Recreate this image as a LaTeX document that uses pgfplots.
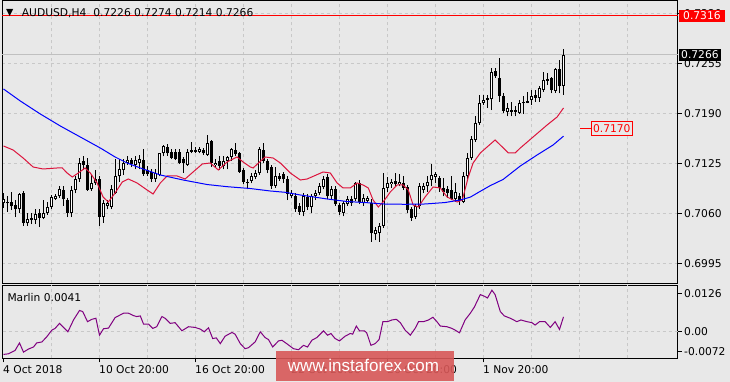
\documentclass[border=0pt]{standalone}
\usepackage{pgfplots}
\pgfplotsset{compat=1.18}
\usepackage{pgfplotstable}
\usepackage{fontspec}
\setmainfont{DejaVu Sans}
\newfontfamily\wmfont{Liberation Sans}
\definecolor{bg}{RGB}{232,232,232}
\definecolor{gridc}{RGB}{200,200,200}
\definecolor{bidc}{RGB}{192,192,192}
\definecolor{mared}{RGB}{220,20,60}
\definecolor{mablue}{RGB}{0,0,255}
\definecolor{marlin}{RGB}{128,0,128}
\definecolor{wmred}{RGB}{216,88,88}
\newcommand\tf{\fontsize{10.7}{12}\selectfont}

\pgfplotstableread{
i o h l c
0 0.7073 0.7087 0.7067 0.7078
1 0.7075 0.7083 0.7062 0.7073
2 0.7075 0.7088 0.7064 0.7069
3 0.7071 0.7077 0.7055 0.7065
4 0.7065 0.7087 0.7060 0.7085
5 0.7086 0.7089 0.7044 0.7048
6 0.7047 0.7061 0.7044 0.7053
7 0.7054 0.7060 0.7046 0.7051
8 0.7051 0.7065 0.7046 0.7059
9 0.7060 0.7065 0.7042 0.7054
10 0.7054 0.7077 0.7052 0.7061
11 0.7061 0.7075 0.7058 0.7068
12 0.7068 0.7084 0.7065 0.7081
13 0.7079 0.7085 0.7077 0.7083
14 0.7082 0.7095 0.7080 0.7091
15 0.7090 0.7095 0.7070 0.7078
16 0.7077 0.7080 0.7055 0.7061
17 0.7061 0.7095 0.7055 0.7090
18 0.7090 0.7109 0.7086 0.7104
19 0.7104 0.7132 0.7101 0.7125
20 0.7128 0.7134 0.7116 0.7123
21 0.7123 0.7132 0.7089 0.7090
22 0.7091 0.7111 0.7089 0.7100
23 0.7099 0.7116 0.7097 0.7104
24 0.7104 0.7109 0.7044 0.7055
25 0.7055 0.7077 0.7048 0.7074
26 0.7069 0.7077 0.7065 0.7074
27 0.7068 0.7097 0.7065 0.7092
28 0.7087 0.7130 0.7085 0.7109
29 0.7108 0.7130 0.7101 0.7117
30 0.7116 0.7130 0.7110 0.7126
31 0.7126 0.7134 0.7123 0.7129
32 0.7129 0.7132 0.7120 0.7124
33 0.7123 0.7134 0.7117 0.7129
34 0.7125 0.7136 0.7117 0.7130
35 0.7129 0.7143 0.7109 0.7111
36 0.7116 0.7121 0.7108 0.7111
37 0.7114 0.7117 0.7101 0.7104
38 0.7104 0.7117 0.7101 0.7112
39 0.7110 0.7139 0.7108 0.7138
40 0.7138 0.7149 0.7134 0.7147
41 0.7146 0.7150 0.7135 0.7138
42 0.7140 0.7143 0.7130 0.7132
43 0.7140 0.7143 0.7129 0.7130
44 0.7140 0.7143 0.7124 0.7126
45 0.7130 0.7133 0.7113 0.7125
46 0.7123 0.7143 0.7122 0.7140
47 0.7140 0.7153 0.7138 0.7142
48 0.7142 0.7146 0.7138 0.7140
49 0.7140 0.7146 0.7138 0.7143
50 0.7142 0.7145 0.7136 0.7138
51 0.7136 0.7162 0.7135 0.7152
52 0.7154 0.7155 0.7120 0.7125
53 0.7123 0.7130 0.7120 0.7126
54 0.7128 0.7134 0.7116 0.7122
55 0.7122 0.7135 0.7117 0.7128
56 0.7128 0.7135 0.7117 0.7133
57 0.7133 0.7145 0.7128 0.7143
58 0.7142 0.7152 0.7134 0.7137
59 0.7138 0.7140 0.7113 0.7114
60 0.7116 0.7119 0.7098 0.7101
61 0.7099 0.7104 0.7091 0.7101
62 0.7102 0.7113 0.7099 0.7108
63 0.7107 0.7116 0.7104 0.7112
64 0.7112 0.7146 0.7110 0.7143
65 0.7142 0.7151 0.7126 0.7128
66 0.7128 0.7131 0.7112 0.7116
67 0.7120 0.7123 0.7092 0.7095
68 0.7096 0.7120 0.7093 0.7108
69 0.7109 0.7112 0.7102 0.7105
70 0.7111 0.7114 0.7100 0.7104
71 0.7104 0.7108 0.7077 0.7085
72 0.7082 0.7090 0.7080 0.7086
73 0.7083 0.7086 0.7062 0.7065
74 0.7070 0.7073 0.7058 0.7062
75 0.7062 0.7086 0.7056 0.7082
76 0.7081 0.7085 0.7064 0.7068
77 0.7068 0.7085 0.7060 0.7082
78 0.7082 0.7090 0.7077 0.7087
79 0.7087 0.7099 0.7084 0.7096
80 0.7094 0.7108 0.7091 0.7104
81 0.7107 0.7111 0.7079 0.7082
82 0.7082 0.7095 0.7079 0.7091
83 0.7091 0.7095 0.7070 0.7072
84 0.7071 0.7073 0.7058 0.7062
85 0.7061 0.7076 0.7056 0.7073
86 0.7072 0.7083 0.7070 0.7078
87 0.7078 0.7082 0.7070 0.7074
88 0.7078 0.7101 0.7076 0.7099
89 0.7099 0.7103 0.7072 0.7075
90 0.7073 0.7085 0.7070 0.7080
91 0.7076 0.7083 0.7073 0.7080
92 0.7074 0.7078 0.7023 0.7034
93 0.7033 0.7042 0.7025 0.7038
94 0.7035 0.7047 0.7023 0.7044
95 0.7044 0.7112 0.7041 0.7093
96 0.7093 0.7107 0.7088 0.7100
97 0.7098 0.7104 0.7093 0.7101
98 0.7102 0.7112 0.7094 0.7098
99 0.7098 0.7111 0.7095 0.7101
100 0.7100 0.7109 0.7090 0.7093
101 0.7094 0.7097 0.7060 0.7064
102 0.7066 0.7068 0.7050 0.7054
103 0.7055 0.7072 0.7052 0.7069
104 0.7069 0.7100 0.7066 0.7095
105 0.7090 0.7099 0.7086 0.7095
106 0.7095 0.7108 0.7088 0.7101
107 0.7103 0.7124 0.7095 0.7110
108 0.7107 0.7114 0.7099 0.7111
109 0.7106 0.7109 0.7088 0.7093
110 0.7093 0.7106 0.7082 0.7088
111 0.7091 0.7095 0.7080 0.7087
112 0.7090 0.7108 0.7077 0.7078
113 0.7078 0.7099 0.7075 0.7088
114 0.7082 0.7086 0.7071 0.7076
115 0.7075 0.7114 0.7073 0.7108
116 0.7108 0.7138 0.7103 0.7132
117 0.7132 0.7160 0.7129 0.7156
118 0.7155 0.7186 0.7153 0.7177
119 0.7177 0.7214 0.7175 0.7203
120 0.7203 0.7214 0.7201 0.7207
121 0.7210 0.7214 0.7197 0.7207
122 0.7208 0.7249 0.7194 0.7244
123 0.7245 0.7249 0.7236 0.7238
124 0.7236 0.7262 0.7205 0.7213
125 0.7213 0.7216 0.7190 0.7193
126 0.7192 0.7203 0.7186 0.7197
127 0.7192 0.7205 0.7186 0.7194
128 0.7194 0.7199 0.7186 0.7192
129 0.7191 0.7207 0.7189 0.7204
130 0.7203 0.7213 0.7189 0.7205
131 0.7204 0.7218 0.7203 0.7206
132 0.7207 0.7220 0.7201 0.7213
133 0.7214 0.7220 0.7205 0.7210
134 0.7210 0.7225 0.7205 0.7223
135 0.7220 0.7244 0.7218 0.7233
136 0.7232 0.7242 0.7227 0.7234
137 0.7236 0.7237 0.7216 0.7220
138 0.7219 0.7249 0.7217 0.7247
139 0.7247 0.7259 0.7216 0.7225
140 0.7226 0.7274 0.7214 0.7266
}\candles

\pgfplotstableread{
x y
0 0.71475
2.4 0.71423
4.9 0.71319
7.4 0.71202
9.9 0.71176
13.4 0.71189
14.7 0.71189
15.9 0.71124
17.2 0.71072
18.7 0.71124
20.4 0.71189
21.7 0.71124
23.4 0.70994
24.9 0.70812
26.2 0.70747
27.9 0.70864
29.7 0.71007
31.2 0.71046
33.4 0.70994
35.9 0.70903
37.4 0.70851
39.2 0.70994
40.9 0.71085
43.4 0.71085
45.4 0.71046
47.4 0.71137
49.7 0.71241
51.7 0.71254
53.7 0.71163
55.9 0.71267
58.4 0.71332
59.9 0.71267
61.7 0.71202
62.4 0.71189
65.4 0.71332
67.4 0.71319
69.2 0.71254
71.7 0.71124
74.2 0.71033
75.9 0.71046
79.9 0.71137
81.7 0.71124
83.4 0.70994
84.9 0.70929
86.7 0.70929
88.4 0.70994
89.9 0.70968
91.2 0.70929
92.4 0.70773
93.7 0.70682
94.9 0.70747
96.7 0.70877
98.4 0.70968
99.9 0.70968
101.2 0.70903
102.4 0.70708
103.7 0.70682
105.4 0.70812
107.4 0.70942
109.2 0.70929
110.9 0.70812
113.4 0.70747
114.7 0.70773
116.2 0.71072
117.4 0.71254
119.2 0.71384
120.9 0.71462
122.9 0.71553
124.7 0.71462
126.2 0.71384
127.9 0.71384
129.2 0.71449
132.4 0.71592
135.9 0.71748
138.4 0.71852
140 0.71969
}\mared

\pgfplotstableread{
x y
0 0.72216
4.2 0.72060
9.2 0.71891
14.2 0.71735
19.2 0.71592
24.2 0.71449
27.9 0.71332
30.9 0.71254
34.2 0.71189
39.2 0.71098
44.9 0.71033
50.9 0.70974
55.9 0.70946
61.7 0.70922
66.7 0.70890
70.4 0.70873
74.2 0.70838
80.9 0.70786
85.9 0.70753
90.9 0.70738
94.9 0.70721
100.4 0.70717
105.4 0.70721
110.4 0.70740
114.2 0.70773
116.7 0.70810
119.0 0.70880
121.7 0.70960
124.9 0.71040
129.2 0.71215
133.4 0.71358
137.4 0.71488
140 0.71603
}\mablue

\pgfplotstableread{
x y
0 -0.0061
1.25 -0.00592
2.9 -0.0050
4.0 -0.00298
5.0 -0.00546
6.25 -0.00463
7.5 -0.00408
8.3 -0.00298
9.6 -0.00271
10.8 -0.00133
12.1 0.0005
12.9 0.00096
14.0 0.00233
15.0 0.00123
16.1 0.00004
17.5 0.00325
19.0 0.00582
19.8 0.00554
21.0 0.00279
22.1 0.00343
23.1 0.00371
24.0 -0.00088
25.0 0.00087
26.25 0.00105
27.9 0.00389
30.0 0.00508
31.25 0.00508
32.5 0.00444
33.3 0.00417
34.2 0.00435
35.0 0.00215
36.25 0.00215
37.3 0.00096
38.3 0.00142
39.6 0.00417
40.4 0.00371
41.7 0.00233
42.9 0.00252
44.6 0.00032
46.25 0.00142
47.9 0.00123
49.2 0.00077
50.2 0.00004
51.25 0.00114
52.3 -0.00179
53.2 -0.00161
54.2 -0.00317
55.4 -0.00115
57.1 -0.00014
57.9 -0.0006
59.2 -0.00317
60.4 -0.00454
61.25 -0.00427
62.9 -0.00271
64.2 0.00004
65.4 -0.00152
66.25 -0.00207
67.3 -0.00408
68.75 -0.00243
69.6 -0.00225
70.8 -0.00317
72.5 -0.00454
73.75 -0.00482
75.0 -0.00363
76.0 -0.00408
77.1 -0.00225
78.35 -0.00152
80.0 0.00032
81.0 -0.00088
81.85 -0.00042
82.9 -0.00179
84.0 -0.00243
85.4 -0.00115
86.7 -0.00042
87.3 -0.0006
88.2 0.0016
89.0 0.00032
90.2 0.00032
90.8 -0.00023
91.85 -0.00363
92.9 -0.00317
93.9 -0.00207
94.85 0.00279
96.0 0.00279
97.1 0.00325
98.2 0.00343
99.2 0.00252
100.4 0.0005
101.7 -0.00088
102.9 0.00096
103.75 0.00279
105.0 0.00279
106.25 0.00325
107.35 0.00398
108.35 0.00279
109.2 0.0016
110.85 0.00142
112.1 0.00096
112.9 0.0005
114.0 -0.00023
115.4 0.00325
116.7 0.00508
117.7 0.00673
119.2 0.01013
120.25 0.00967
121.0 0.00921
122.1 0.01132
122.9 0.01013
124.2 0.00554
125.2 0.00435
126.7 0.00371
128.35 0.00279
129.35 0.00325
130.85 0.00279
132.1 0.00252
132.9 0.00187
134.0 0.00279
135.4 0.00279
136.7 0.00123
137.9 0.00279
139.0 0.00068
140.0 0.0041
}\marlin

\pgfplotsset{
  mtchart/.style={
    scale only axis, width=675pt, anchor=south west,
    xmin=-0.25, xmax=168.5,
    scaled x ticks=false, scaled y ticks=false,
    axis line style={black, line width=1pt},
    major grid style={gridc, line width=1pt, dash pattern=on 3pt off 3pt},
    tick style={black, line width=1pt},
    major tick length=4pt,
    tick align=outside,
    ytick pos=right, yticklabel pos=right,
    yticklabel style={font=\tf, anchor=west, inner sep=0pt, xshift=2.5pt},
    clip=false,
  },
  candle/.style={draw=none, mark=none, forget plot,
    error bars/.cd, y dir=plus, y explicit, error mark=none},
}

\begin{document}
\begin{tikzpicture}
\useasboundingbox (0pt,0pt) rectangle (730pt,382pt);
\fill[bg] (0pt,0pt) rectangle (730pt,382pt);

% ---------------- main price panel ----------------
\begin{axis}[mtchart,
  height=283pt, at={(2.5pt,98.5pt)},
  ymin=0.696874, ymax=0.733664,
  xtick={12,24,...,156}, xticklabels={},
  major x tick style={draw=none},
  xmajorgrids, ymajorgrids,
  ytick={0.6995,0.7060,0.7125,0.7190,0.7255,0.7320},
  yticklabels={0.6995,0.7060,0.7125,0.7190,0.7255,0.7320},
]
% bid line
\addplot[bidc, line width=1pt, forget plot] coordinates {(-0.25,0.7266) (168.5,0.7266)};
% wicks
\addplot[candle, error bar style={draw=black, line width=1pt}]
  table[x=i, y=l, y error expr=\thisrow{h}-\thisrow{l}] {\candles};
% bodies
\addplot[candle, error bar style={draw=black, line width=3pt}]
  table[x=i, y expr={min(\thisrow{o},\thisrow{c})},
        y error expr={max(abs(\thisrow{c}-\thisrow{o}),0.00012)}] {\candles};
% hollow interior of rising candles
\addplot[candle, error bar style={draw=white, line width=1pt}]
  table[x=i, y expr={(\thisrow{c}-\thisrow{o}>0.00027) ? (\thisrow{o}+0.00013) : nan},
        y error expr={max(\thisrow{c}-\thisrow{o}-0.00026,0)}] {\candles};
% moving averages
\addplot[mared, line width=1pt, mark=none] table[x=x,y=y] {\mared};
\addplot[mablue, line width=1pt, mark=none] table[x=x,y=y] {\mablue};
% resistance line
\addplot[red, line width=1pt, mark=none] coordinates {(-0.25,0.7317) (168.5,0.7317)};
% 0.7170 marker
\addplot[red, line width=1pt, mark=none] coordinates {(144.1,0.7170) (146.9,0.7170)};
\node[draw=red, line width=1pt, fill=bg, text=red, font=\tf, anchor=west,
      inner xsep=1.5pt, inner ysep=0pt, minimum height=14pt]
      at (axis cs:146.9,0.7170) {0.7170};
\coordinate (r7316) at (axis cs:168.5,0.7317);
\coordinate (r7266) at (axis cs:168.5,0.7266);
\end{axis}

% ---------------- Marlin panel ----------------
\begin{axis}[mtchart,
  height=73pt, at={(2.5pt,23.5pt)},
  ymin=-0.0072, ymax=0.0126,
  xtick={0,24,...,120},
  xticklabels={4 Oct 2018,10 Oct 20:00,16 Oct 20:00,22 Oct 20:00,26 Oct 20:00,1 Nov 20:00},
  xtick pos=bottom,
  xticklabel style={font=\tf, anchor=north west, inner sep=0pt, xshift=-0.5pt, yshift=-3pt},
  extra x ticks={12,24,...,156}, extra x tick labels={},
  extra x tick style={grid=major, major tick style={draw=none}},
  ytick={-0.0052,0.0104}, yticklabels={-0.0072,0.0126},
  extra y ticks={0}, extra y tick labels={0.00},
  extra y tick style={grid=major},
]
\addplot[marlin, line width=1pt, mark=none] table[x=x,y=y] {\marlin};
\end{axis}

% price labels on the right scale
\node[fill=red, text=white, font=\tf, anchor=west, inner xsep=4.5pt, inner ysep=0pt,
      minimum height=12pt, xshift=1pt] at (r7316) {0.7316};
\node[fill=black, text=white, font=\tf, anchor=west, inner xsep=2.5pt, inner ysep=0pt,
      minimum height=12.5pt, xshift=1pt] at (r7266) {0.7266};

% chart title and indicator label
\node[anchor=base west, inner sep=0pt, font=\fontsize{9.5}{10}\selectfont] at (6pt,366pt) {▼};
\node[anchor=base west, inner sep=0pt, font=\tf] at (21.7pt,365.5pt)
  {AUDUSD,H4\hspace{7pt}0.7226 0.7274 0.7214 0.7266};
\node[anchor=base west, inner sep=0pt, font=\tf] at (7.3pt,80.5pt) {Marlin 0.0041};

% watermark
\fill[wmred, opacity=0.9] (276pt,1pt) rectangle (454pt,30.5pt);
\node[anchor=base, inner sep=0pt, text=white, font=\wmfont\fontsize{17}{18}\selectfont]
  at (363.4pt,10.3pt) {www.instaforex.com};
\end{tikzpicture}
\end{document}
